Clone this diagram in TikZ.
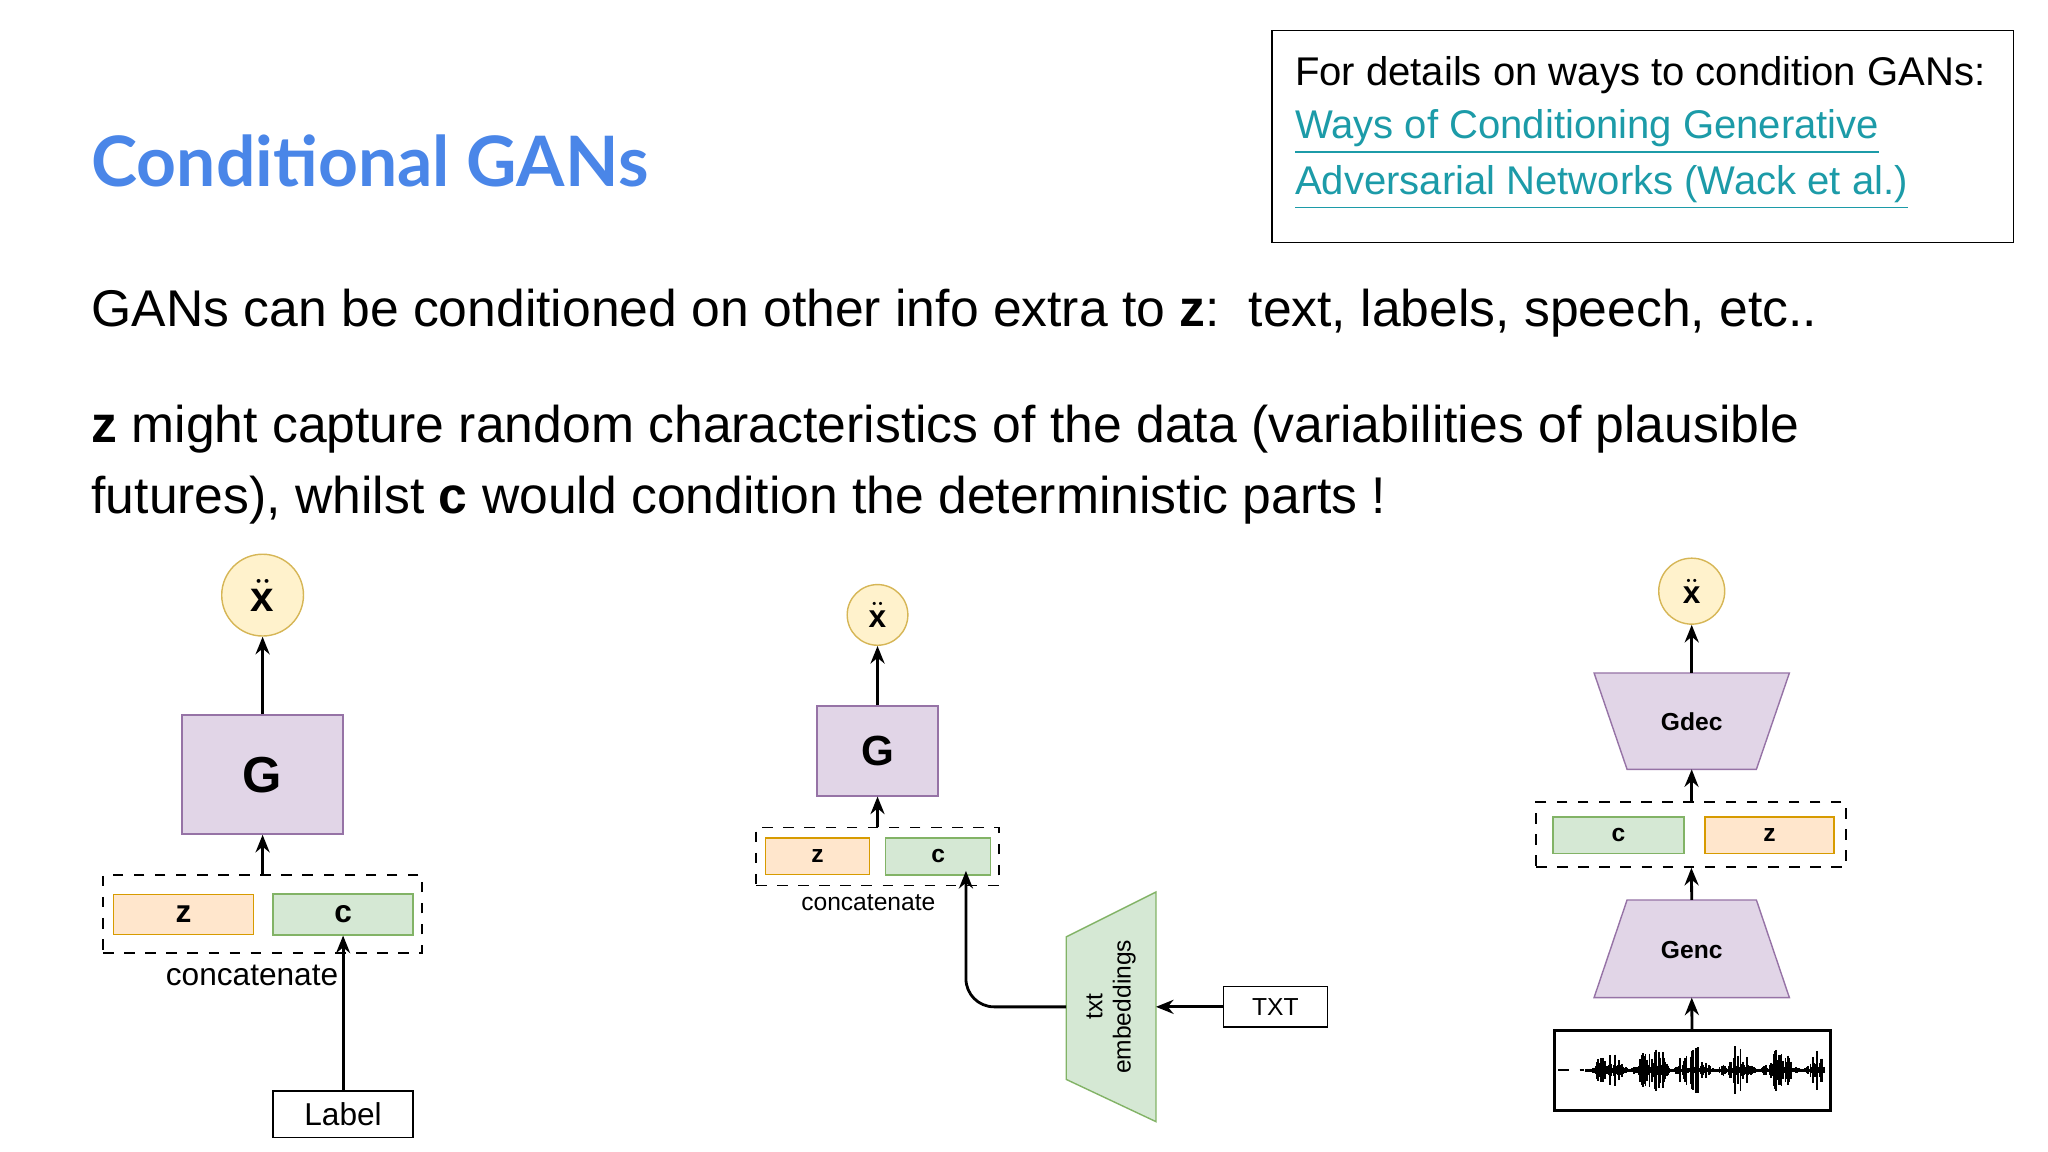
\documentclass[tikz,border=0pt]{standalone}
\usepackage{fontspec}
\setmainfont{Liberation Sans}
\newfontfamily\titlefont{Lato}
\usetikzlibrary{arrows.meta}
\definecolor{titleblue}{HTML}{4A86E8}
\definecolor{linkteal}{HTML}{1C9BA8}
\definecolor{gfill}{HTML}{E1D5E7}\definecolor{gdraw}{HTML}{9673A6}
\definecolor{zfill}{HTML}{FFE6CC}\definecolor{zdraw}{HTML}{D79B00}
\definecolor{cfill}{HTML}{D5E8D4}\definecolor{cdraw}{HTML}{82B366}
\definecolor{xfill}{HTML}{FFF2CC}\definecolor{xdraw}{HTML}{D6B656}
\tikzset{
  gbox/.style={draw=gdraw,fill=gfill,font=\bfseries},
  zbox/.style={draw=zdraw,fill=zfill,font=\bfseries\scriptsize},
  cbox/.style={draw=cdraw,fill=cfill,font=\bfseries\scriptsize},
  xout/.style={circle,draw=xdraw,fill=xfill,inner sep=0pt},
  catbox/.style={draw,dashed},
  arr/.style={-{Stealth[length=5pt,width=4pt]},thick},
  body/.style={anchor=west,font=\fontsize{14.7}{17}\selectfont},
  info/.style={anchor=west,font=\fontsize{11.4}{14}\selectfont}
}
\begin{document}
\begin{tikzpicture}[x=0.0132cm,y=-0.0132cm]
\useasboundingbox (0,0) rectangle (1552,872.7);

% header
\node[anchor=west,font=\titlefont\bfseries\fontsize{19.8}{23}\selectfont,text=titleblue] at (60,122) {Conditional GANs};
\draw (964,23) rectangle (1526,184);
\node[info] at (972,57) {For details on ways to condition GANs:};
\node[info,text=linkteal] at (972,100) {\underline{Ways of Conditioning Generative}};
\node[info,text=linkteal] at (972,142) {\underline{Adversarial Networks (Wack et al.)}};
\node[body] at (60,237) {GANs can be conditioned on other info extra to \textbf{z}:\ \ text, labels, speech, etc..};
\node[body] at (60,325) {\textbf{z} might capture random characteristics of the data (variabilities of plausible};
\node[body] at (60,379) {futures), whilst \textbf{c} would condition the deterministic parts !};

% left: labels
\node[xout,minimum size=0.818cm,font=\large] (xl) at (199,451) {$\ddot{\mathbf{x}}$};
\node[gbox,minimum width=1.61cm,minimum height=1.19cm,font=\bfseries\Large] (Gl) at (199,587) {G};
\node[catbox,minimum width=3.19cm,minimum height=0.78cm] (catl) at (199,692.5) {};
\node[zbox,minimum width=1.4cm,minimum height=0.4cm,font=\bfseries\small] (zl) at (139,693) {z};
\node[cbox,minimum width=1.4cm,minimum height=0.4cm,font=\bfseries\small] (cl) at (260,693) {c};
\node[font=\small] at (191,739) {concatenate};
\node[draw,minimum width=1.4cm,minimum height=0.41cm,font=\small] (lab) at (260,844.5) {Label};
\draw[arr] (Gl) -- (xl);
\draw[arr] (catl) -- (Gl);
\draw[arr] (lab) -- (cl);

% middle: text
\node[xout,minimum size=0.607cm,font=\small] (xm) at (665,466) {$\ddot{\mathbf{x}}$};
\node[gbox,minimum width=1.21cm,minimum height=0.9cm,font=\bfseries\large] (Gm) at (665,569) {G};
\node[catbox,minimum width=2.43cm,minimum height=0.58cm] (catm) at (665,649) {};
\node[zbox,minimum width=1.04cm,minimum height=0.29cm] (zm) at (619.5,649) {z};
\node[cbox,minimum width=1.05cm,minimum height=0.29cm] (cm) at (711,649) {c};
\node[font=\scriptsize] at (658,684) {concatenate};
\draw[draw=cdraw,fill=cfill] (808,710) -- (876,676) -- (876,850) -- (808,818) -- cycle;
\coordinate (embL) at (808,763);
\coordinate (embR) at (876,763);
\node[rotate=90,align=center,font=\scriptsize,inner sep=1pt] at (842,763) {txt\\embeddings};
\node[draw,minimum width=1.04cm,minimum height=0.32cm,font=\scriptsize] (txt) at (966.5,763) {TXT};
\draw[arr] (Gm) -- (xm);
\draw[arr] (catm) -- (Gm);
\draw[arr] (txt) -- (embR);
\draw[arr,rounded corners=8pt] (embL) -- (732,763) -- (732,660);

% right: speech
\node[xout,minimum size=0.66cm,font=\small] (xr) at (1282,448) {$\ddot{\mathbf{x}}$};
\draw[gbox] (1208,510) -- (1356,510) -- (1331,583) -- (1233,583) -- cycle;
\coordinate (decT) at (1282,510);
\coordinate (decB) at (1282,583);
\node[font=\bfseries\scriptsize] at (1282,547) {Gdec};
\node[catbox,minimum width=3.1cm,minimum height=0.65cm] (catr) at (1281.5,632.5) {};
\node[cbox,minimum width=1.31cm,minimum height=0.32cm] (cr) at (1226.5,633) {c};
\node[zbox,minimum width=1.29cm,minimum height=0.32cm] (zr) at (1341,633) {z};
\draw[gbox] (1233,682) -- (1331,682) -- (1356,756) -- (1208,756) -- cycle;
\coordinate (encT) at (1282,682);
\coordinate (encB) at (1282,756);
\node[font=\bfseries\scriptsize] at (1282,720) {Genc};
\node[draw,thick,minimum width=2.76cm,minimum height=0.8cm] (wave) at (1282.5,811.5) {};
\draw[dashed,thin] (1181,811) -- (1200,811);
\pgfmathsetseed{7}
\foreach \i in {0,...,180}{
  \pgfmathsetmacro{\xx}{1202+\i}
  \pgfmathsetmacro{\env}{abs(sin(\i*5.5))^2*(\i<8?0.3:1)*(\i>55&&\i<75?1.8:1)}
  \pgfmathsetmacro{\amp}{1+rnd*18*\env}
  \draw[line width=0.5pt] (\xx,811-\amp) -- (\xx,811+\amp);
}
\draw[arr] (decT) -- (xr);
\draw[arr] (catr) -- (decB);
\draw[arr] (encT) -- (catr);
\draw[arr] (wave) -- (encB);
\end{tikzpicture}
\end{document}
